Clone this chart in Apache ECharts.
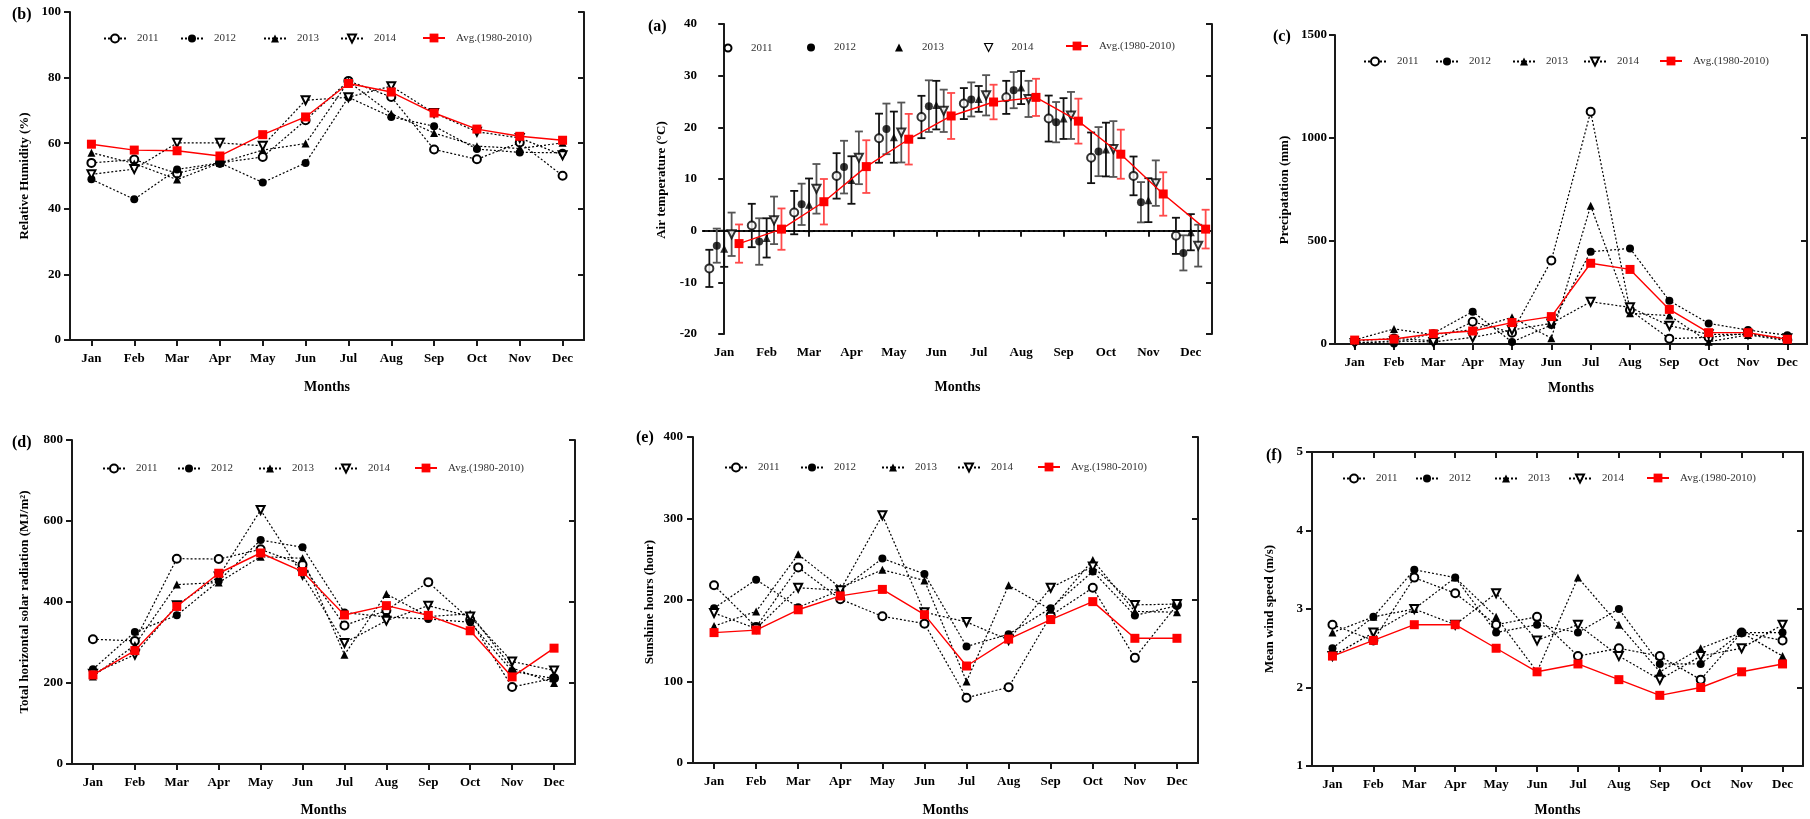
<!DOCTYPE html>
<html><head><meta charset="utf-8">
<script src="https://cdn.jsdelivr.net/npm/echarts@6/dist/echarts.min.js"></script>
<style>html,body{margin:0;padding:0;background:#fff}#c{width:1810px;height:819px}</style>
</head><body><div id="c"></div>
<script>
const months = ['Jan','Feb','Mar','Apr','May','Jun','Jul','Aug','Sep','Oct','Nov','Dec'];
const yearNames = ['2011','2012','2013','2014'];
const avgName = 'Avg.(1980-2010)';

// (b) Relative humidity (%)
const rh2011 = [54, 55, 50.8, 54, 55.8, 67, 79, 74.1, 58.1, 55.1, 60.2, 50.1];
const rh2012 = [49, 42.9, 52, 54, 48, 54, 74, 68, 65.2, 58.2, 57.2, 57.1];
const rh2013 = [57.1, 53.8, 48.9, 54, 57.9, 59.9, 78.8, 69, 63.1, 59.1, 58.4, 60.1];
const rh2014 = [50.5, 52.1, 60.1, 60.1, 59.2, 73.1, 74, 77.4, 69.2, 63.5, 61.6, 56.3];
const rhAvg  = [59.7, 57.9, 57.7, 56.1, 62.6, 68, 78.2, 75.6, 69.2, 64.3, 62.1, 60.9];

// (a) Air temperature (°C): means and error half-widths
const t2011 = [-7.3, 1.0, 3.5, 10.6, 17.9, 22.0, 24.6, 25.8, 21.7, 14.1, 10.6, -1.0];
const e2011 = [3.6, 4.2, 4.2, 4.4, 4.75, 4.1, 3.0, 3.2, 4.45, 4.9, 3.75, 3.5];
const t2012 = [-2.9, -2.1, 5.1, 12.3, 19.7, 24.1, 25.4, 27.2, 21.0, 15.3, 5.5, -4.3];
const e2012 = [3.3, 4.5, 4.0, 5.1, 4.9, 5.0, 3.3, 3.5, 3.9, 4.75, 3.9, 3.4];
const t2013 = [-3.5, -1.4, 5.0, 9.8, 18.1, 24.3, 25.5, 27.7, 21.7, 15.7, 5.9, -0.3];
const e2013 = [3.5, 3.8, 5.1, 4.6, 4.95, 4.7, 2.5, 3.2, 3.95, 5.2, 4.25, 3.5];
const t2014 = [-0.7, 2.0, 8.1, 14.1, 19.0, 23.2, 26.2, 25.5, 22.3, 15.8, 9.2, -2.9];
const e2014 = [4.2, 4.6, 4.8, 5.1, 5.8, 4.1, 3.9, 3.5, 4.55, 5.4, 4.4, 4.05];
const tAvg  = [-2.5, 0.3, 5.6, 12.4, 17.7, 22.2, 24.9, 25.8, 21.2, 14.8, 7.1, 0.3];
const eAvg  = [3.7, 4.0, 4.4, 5.1, 4.9, 4.45, 3.35, 3.6, 4.35, 4.75, 4.2, 3.75];

// (c) Precipitation (mm)
const p2011 = [15, 27, 16, 108, 55, 405, 1128, 165, 26, 32, 52, 19];
const p2012 = [10, 3, 52, 157, 10, 92, 448, 464, 210, 100, 68, 42];
const p2013 = [20, 73, 45, 70, 130, 28, 671, 149, 138, 11, 44, 16];
const p2014 = [5, 15, 10, 32, 68, 100, 205, 178, 89, 47, 47, 28];
const pAvg  = [19, 24, 50, 63, 104, 133, 392, 362, 168, 55, 55, 23];

// (d) Total horizontal solar radiation (MJ/m2)
const s2011 = [308, 304, 507, 506, 530, 492, 342, 379, 449, 356, 190, 212];
const s2012 = [234, 326, 367, 452, 553, 535, 374, 363, 358, 350, 229, 211];
const s2013 = [216, 294, 443, 448, 512, 508, 270, 420, 364, 371, 237, 200];
const s2014 = [223, 270, 392, 463, 627, 467, 299, 354, 391, 364, 253, 231];
const sAvg  = [220, 280, 389, 471, 521, 475, 368, 391, 367, 329, 215, 286];

// (e) Sunshine hours (hour)
const h2011 = [218, 167, 240, 201, 180, 171, 80, 93, 181, 215, 129, 194];
const h2012 = [190, 225, 191, 212, 251, 232, 143, 158, 190, 235, 181, 193];
const h2013 = [168, 186, 256, 215, 237, 224, 100, 218, 188, 249, 186, 185];
const h2014 = [184, 165, 215, 212, 304, 185, 173, 151, 215, 241, 194, 195];
const hAvg  = [160, 163, 188, 205, 213, 182, 119, 152, 176, 198, 153, 153];

// (f) Mean wind speed (m/s)
const w2011 = [2.8, 2.6, 3.4, 3.2, 2.8, 2.9, 2.4, 2.5, 2.4, 2.1, 2.7, 2.6];
const w2012 = [2.5, 2.9, 3.5, 3.4, 2.7, 2.8, 2.7, 3.0, 2.3, 2.3, 2.7, 2.7];
const w2013 = [2.7, 2.9, 3.0, 3.4, 2.9, 2.2, 3.4, 2.8, 2.2, 2.5, 2.7, 2.4];
const w2014 = [2.4, 2.7, 3.0, 2.8, 3.2, 2.6, 2.8, 2.4, 2.1, 2.4, 2.5, 2.8];
const wAvg  = [2.4, 2.6, 2.8, 2.8, 2.5, 2.2, 2.3, 2.1, 1.9, 2.0, 2.2, 2.3];

const FONT = '"Liberation Serif", "Times New Roman", serif';
const AX = '#1a1a1a';
const markers = {
  '2011': {symbol: 'emptyCircle', rotate: 0},
  '2012': {symbol: 'circle', rotate: 0},
  '2013': {symbol: 'triangle', rotate: 0},
  '2014': {symbol: 'emptyTriangle', rotate: 180}
};

const grids = [], xAxes = [], yAxes = [], series = [], legends = [], graphics = [];

function axLine() { return {show: true, lineStyle: {color: AX, width: 2}}; }

function addPanel(p) {
  const gi = grids.length;
  grids.push({left: p.l, top: p.t, width: p.w, height: p.h});
  const xb = xAxes.length;
  const cx = {type: 'category', gridIndex: gi, data: months, boundaryGap: true, axisLine: axLine(), splitLine: {show: false}};
  xAxes.push(Object.assign({}, cx, {position: 'bottom',
    axisTick: {show: true, alignWithLabel: true, interval: 0, length: 6, lineStyle: {color: AX, width: 2}},
    axisLabel: {interval: 0, margin: 12, fontFamily: FONT, fontWeight: 'bold', fontSize: 13, color: '#000'}}));
  xAxes.push(Object.assign({}, cx, {position: 'top',
    axisTick: {show: true, inside: true, alignWithLabel: true, interval: 0, length: 6, lineStyle: {color: AX, width: 2}},
    axisLabel: {show: false}}));
  let xv = null;
  if (p.valueX) { xv = xAxes.length; xAxes.push({type: 'value', gridIndex: gi, min: -0.5, max: 11.5, show: false}); }
  const yl = yAxes.length;
  const cy = {type: 'value', gridIndex: gi, min: p.min, max: p.max, interval: p.step, axisLine: axLine(), splitLine: {show: false}};
  yAxes.push(Object.assign({}, cy, {position: 'left',
    axisTick: {show: true, length: 6, lineStyle: {color: AX, width: 2}},
    axisLabel: {margin: p.lm || 8, fontFamily: FONT, fontWeight: 'bold', fontSize: 13, color: '#000',
      formatter: function (v) { return String(v); }}}));
  yAxes.push(Object.assign({}, cy, {position: 'right',
    axisTick: {show: true, inside: true, length: 6, lineStyle: {color: AX, width: 2}},
    axisLabel: {show: false}}));
  graphics.push({type: 'text', x: p.tag[1], y: p.tag[2], style: {text: p.tag[0], fontFamily: FONT, fontWeight: 'bold', fontSize: 16, fill: '#000', align: 'left', verticalAlign: 'middle'}});
  graphics.push({type: 'text', x: p.yt[1], y: p.yt[2], rotation: Math.PI / 2, style: {text: p.yt[0], fontFamily: FONT, fontWeight: 'bold', fontSize: 13, fill: '#000', align: 'center', verticalAlign: 'middle'}});
  graphics.push({type: 'text', x: p.l + p.w / 2, y: p.my, style: {text: 'Months', fontFamily: FONT, fontWeight: 'bold', fontSize: 14, fill: '#000', align: 'center', verticalAlign: 'middle'}});
  return {gi, xb, xv, yl};
}

function addLegend(name, left, cy, o) {
  o = o || {};
  const ih = o.ih || 10, iw = o.iw || 22;
  const item = Object.assign({name: name}, o.item || {});
  legends.push({data: [item], left: left, top: cy - ih / 2, itemWidth: iw, itemHeight: ih, padding: 0,
    selectedMode: false, textStyle: {fontFamily: FONT, fontSize: 11, color: '#333', padding: [0, 0, 0, o.tp != null ? o.tp : 6]}});
}

function addStdLegends(lefts, cy) {
  yearNames.forEach((y, k) => addLegend(y, lefts[k], cy));
  addLegend(avgName, lefts[4], cy, {ih: 11});
}

function addLines(idx, yearData, avg) {
  yearNames.forEach((y, k) => series.push({
    type: 'line', name: y, xAxisIndex: idx.xb, yAxisIndex: idx.yl, data: yearData[k],
    symbol: markers[y].symbol, symbolRotate: markers[y].rotate, symbolSize: 8, showAllSymbol: true,
    itemStyle: {color: '#000', borderWidth: 1.2}, lineStyle: {color: '#000', width: 1.2, type: [2, 2]},
    z: 3, animation: false}));
  series.push({type: 'line', name: avgName, xAxisIndex: idx.xb, yAxisIndex: idx.yl, data: avg,
    symbol: 'rect', symbolSize: 9, showAllSymbol: true, itemStyle: {color: '#ff0000'},
    lineStyle: {color: '#ff0000', width: 1.4, type: 'solid'}, z: 4, animation: false});
}

function errSeries(name, means, errs, off, color, idx) {
  return {type: 'custom', name: name, xAxisIndex: idx.xv, yAxisIndex: idx.yl, silent: true, z: 2, animation: false,
    data: means.map((m, i) => [i + off, m - errs[i], m + errs[i]]),
    encode: {x: 0, y: [1, 2]},
    renderItem: function (params, api) {
      const x = api.value(0);
      const a = api.coord([x, api.value(1)]), b = api.coord([x, api.value(2)]);
      const cw = 4, st = {stroke: color, lineWidth: 1.8};
      return {type: 'group', children: [
        {type: 'line', shape: {x1: a[0], y1: a[1], x2: b[0], y2: b[1]}, style: st},
        {type: 'line', shape: {x1: a[0] - cw, y1: a[1], x2: a[0] + cw, y2: a[1]}, style: st},
        {type: 'line', shape: {x1: b[0] - cw, y1: b[1], x2: b[0] + cw, y2: b[1]}, style: st}
      ]};
    }};
}

// Panel (b)
const iB = addPanel({l: 70, t: 12, w: 514, h: 328, min: 0, max: 100, step: 20, lm: 9,
  tag: ['(b)', 12, 15], yt: ['Relative Humidity (%)', 25, 176], my: 387});
addLines(iB, [rh2011, rh2012, rh2013, rh2014], rhAvg);
addStdLegends([103, 180, 263, 340, 422], 38);

// Panel (a)
const iA = addPanel({l: 703, t: 24, w: 509, h: 310, min: -20, max: 40, step: 10, lm: 6, valueX: true,
  tag: ['(a)', 648, 27], yt: ['Air temperature (°C)', 662, 180], my: 387});
const tMeans = [t2011, t2012, t2013, t2014], tErrs = [e2011, e2012, e2013, e2014];
const offs = [-0.35, -0.175, 0, 0.175], avgOff = 0.35;
const errColors = ['#111', '#555', '#111', '#555'];
yearNames.forEach((y, k) => {
  series.push(errSeries('err' + y, tMeans[k], tErrs[k], offs[k], errColors[k], iA));
  series.push({type: 'scatter', name: y, xAxisIndex: iA.xv, yAxisIndex: iA.yl,
    data: tMeans[k].map((v, i) => [i + offs[k], v]),
    symbol: markers[y].symbol, symbolRotate: markers[y].rotate, symbolSize: 8,
    itemStyle: {color: '#000', borderWidth: 1.2}, z: 5, animation: false});
});
series.push(errSeries('errAvg', tAvg, eAvg, avgOff, '#ff4a4a', iA));
series.push({type: 'line', name: avgName, xAxisIndex: iA.xv, yAxisIndex: iA.yl,
  data: tAvg.map((v, i) => [i + avgOff, v]), symbol: 'rect', symbolSize: 9,
  itemStyle: {color: '#ff0000'}, lineStyle: {color: '#ff0000', width: 1.4}, z: 6, animation: false,
  markLine: {silent: true, symbol: 'none', label: {show: false}, animation: false,
    lineStyle: {type: [2, 3], color: '#000', width: 2}, data: [{yAxis: 0}]}});
const aIcons = [
  {icon: 'emptyCircle', itemStyle: {color: '#000'}},
  {icon: 'circle', itemStyle: {color: '#000'}},
  {icon: 'triangle', itemStyle: {color: '#000'}},
  {icon: 'path://M0,0L10,0L5,10Z', itemStyle: {color: '#fff', borderColor: '#000', borderWidth: 1.2}}
];
const aSizes = [7, 8, 8, 8];
[727, 811, 899, 988].forEach((c, k) => addLegend(yearNames[k], c - aSizes[k] / 2, 46,
  {iw: aSizes[k], ih: aSizes[k], tp: 23 - aSizes[k] / 2 - 5, item: aIcons[k]}));
addLegend(avgName, 1065, 46, {ih: 11});

// Panel (c)
const iC = addPanel({l: 1335, t: 35, w: 472, h: 309, min: 0, max: 1500, step: 500, lm: 8,
  tag: ['(c)', 1273, 37], yt: ['Precipatation (mm)', 1285, 190], my: 388});
addLines(iC, [p2011, p2012, p2013, p2014], pAvg);
addStdLegends([1363, 1435, 1512, 1583, 1659], 61);

// Panel (d)
const iD = addPanel({l: 72, t: 440, w: 503, h: 324, min: 0, max: 800, step: 200, lm: 9,
  tag: ['(d)', 12, 443], yt: ['Total horizontal solar radiation (MJ/m²)', 25, 602], my: 810});
addLines(iD, [s2011, s2012, s2013, s2014], sAvg);
addStdLegends([102, 177, 258, 334, 414], 468);

// Panel (e)
const iE = addPanel({l: 693, t: 437, w: 505, h: 326, min: 0, max: 400, step: 100, lm: 10,
  tag: ['(e)', 636, 438], yt: ['Sunshine hours (hour)', 650, 602], my: 810});
addLines(iE, [h2011, h2012, h2013, h2014], hAvg);
addStdLegends([724, 800, 881, 957, 1037], 467);

// Panel (f)
const iF = addPanel({l: 1312, t: 452, w: 491, h: 314, min: 1, max: 5, step: 1, lm: 9,
  tag: ['(f)', 1266, 456], yt: ['Mean wind speed (m/s)', 1270, 609], my: 810});
addLines(iF, [w2011, w2012, w2013, w2014], wAvg);
addStdLegends([1342, 1415, 1494, 1568, 1646], 478);

const chart = echarts.init(document.getElementById('c'), null, {renderer: 'canvas'});
chart.setOption({
  backgroundColor: '#fff',
  animation: false,
  grid: grids, xAxis: xAxes, yAxis: yAxes, legend: legends, series: series,
  graphic: {elements: graphics}
});
</script></body></html>
